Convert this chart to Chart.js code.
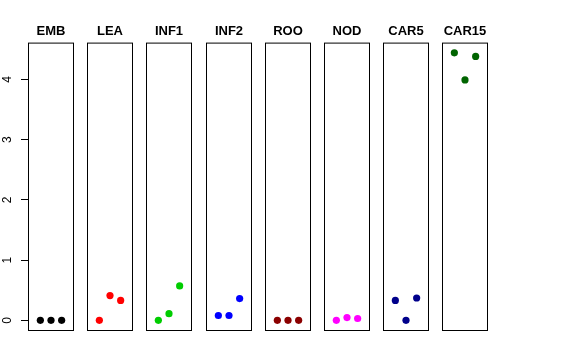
<!DOCTYPE html>
<html>
<head>
<meta charset="utf-8">
<script src="https://cdn.jsdelivr.net/npm/chart.js@4"></script>
<style>
  body { margin: 0; background: #fff; }
  #wrap { position: relative; width: 576px; height: 360px; overflow: hidden; }
  #wrap canvas { position: absolute; top: 0; }
</style>
</head>
<body>
<div id="wrap"></div>
<script>
// DATA
const panels = ['EMB', 'LEA', 'INF1', 'INF2', 'ROO', 'NOD', 'CAR5', 'CAR15'];
const colors = ['#000000', '#FF0000', '#00CD00', '#0000FF', '#8B0000', '#FF00FF', '#00008B', '#006400'];
const xPos = [1, 2, 3];
const valEMB = [0, 0, 0];
const valLEA = [0, 0.41, 0.33];
const valINF1 = [0, 0.11, 0.57];
const valINF2 = [0.08, 0.08, 0.36];
const valROO = [0, 0, 0];
const valNOD = [0, 0.045, 0.03];
const valCAR5 = [0.33, 0, 0.37];
const valCAR15 = [4.44, 3.99, 4.38];
const yTicks = [0, 1, 2, 3, 4];

const values = [valEMB, valLEA, valINF1, valINF2, valROO, valNOD, valCAR5, valCAR15];

Chart.defaults.font.family = '"Liberation Sans", Arial, Helvetica, sans-serif';
Chart.defaults.color = '#000';

// frame around each panel
const boxPlugin = {
  id: 'box',
  afterDraw(chart) {
    const a = chart.chartArea;
    const ctx = chart.ctx;
    ctx.save();
    ctx.strokeStyle = '#000';
    ctx.lineWidth = 1;
    ctx.strokeRect(a.left + 0.5, a.top + 0.5, a.right - a.left - 1, a.bottom - a.top - 1);
    ctx.restore();
  }
};

const boxW = 46;
const pad = 5;

panels.forEach(function (name, i) {
  const first = i === 0;
  const boxLeft = Math.round(28 + 59.2 * i);
  const canvas = document.createElement('canvas');
  const cw = first ? boxLeft + boxW + pad : boxW + 2 * pad;
  canvas.width = cw;
  canvas.height = 360;
  canvas.style.left = (first ? 0 : boxLeft - pad) + 'px';
  document.getElementById('wrap').appendChild(canvas);

  new Chart(canvas, {
    type: 'scatter',
    data: {
      datasets: [{
        data: xPos.map(function (x, k) { return { x: x, y: values[i][k] }; }),
        backgroundColor: colors[i],
        borderWidth: 0,
        pointRadius: 3.6,
        pointHoverRadius: 3.6
      }]
    },
    options: {
      responsive: false,
      animation: false,
      devicePixelRatio: 1,
      layout: { padding: { left: first ? 0 : pad, right: pad, top: 0, bottom: 29 } },
      plugins: {
        legend: { display: false },
        tooltip: { enabled: false },
        title: {
          display: true,
          text: name,
          fullSize: false,
          font: { size: 13, weight: 'bold' },
          padding: { top: 24, bottom: 3 }
        }
      },
      scales: {
        x: { type: 'linear', display: false, min: -0.16, max: 4.16 },
        y: {
          display: first,
          min: -0.1775,
          max: 4.609,
          afterFit: function (scale) { if (first) scale.width = boxLeft; },
          afterBuildTicks: function (scale) {
            scale.ticks = yTicks.map(function (v) { return { value: v }; });
          },
          border: { display: false },
          grid: { drawOnChartArea: false, drawTicks: true, tickLength: 7, color: '#000' },
          ticks: {
            font: { size: 12 },
            minRotation: 90,
            maxRotation: 90,
            crossAlign: 'center',
            padding: 10,
            callback: function (v) { return String(v); }
          }
        }
      }
    },
    plugins: [boxPlugin]
  });
});
</script>
</body>
</html>
